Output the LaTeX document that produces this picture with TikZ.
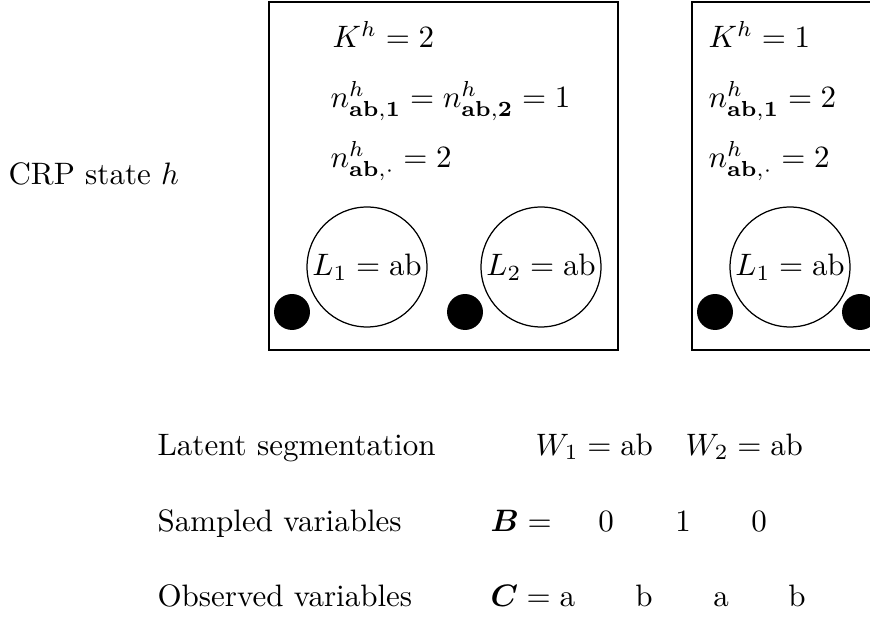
\documentclass[tikz,border=0pt]{standalone}
\usepackage{amsmath}
\begin{document}
\begin{tikzpicture}[x=0.3226pt,y=0.3226pt,
  frame/.style={draw, line width=0.5pt},
  ring/.style={draw, circle, line width=0.4pt, minimum size=38.7pt, inner sep=0pt},
  blob/.style={circle, fill=black, minimum size=11.6pt, inner sep=0pt},
  txt/.style={anchor=base west, inner sep=0pt},
  ctxt/.style={anchor=base, inner sep=0pt}]
\useasboundingbox (0,0) rectangle (870,-619);
\clip (0,0) rectangle (870,-619);
% left label
\node[txt] (crp) at (8,-185) {CRP state $h$};
% box 1
\draw[frame] (269,-2) rectangle (618,-350);
\node[txt] (k1) at (332,-48) {$K^h = 2$};
\node[txt] (n1) at (330,-108) {$n^h_{\mathbf{ab,1}} = n^h_{\mathbf{ab,2}} = 1$};
\node[txt] (m1) at (330,-168) {$n^h_{\mathbf{ab},\cdot} = 2$};
\node[ring] (c11) at (367,-267) {$L_1 = \mathrm{ab}$};
\node[ring] (c12) at (541,-267) {$L_2 = \mathrm{ab}$};
\node[blob] (d11) at (292,-312) {};
\node[blob] (d12) at (465,-312) {};
% box 2
\draw[frame] (692,-2) rectangle (920,-350);
\node[txt] (k2) at (708,-48) {$K^h = 1$};
\node[txt] (n2) at (708,-108) {$n^h_{\mathbf{ab,1}} = 2$};
\node[txt] (m2) at (708,-168) {$n^h_{\mathbf{ab},\cdot} = 2$};
\node[ring] (c21) at (790,-267) {$L_1 = \mathrm{ab}$};
\node[blob] (d21) at (715,-312) {};
\node[blob] (d22) at (860,-312) {};
% bottom rows
\node[txt] (lat) at (157,-455) {Latent segmentation};
\node[txt] (w1) at (535,-455) {$W_1 = \mathrm{ab}$};
\node[txt] (w2) at (685,-455) {$W_2 = \mathrm{ab}$};
\node[txt] (smp) at (157,-531) {Sampled variables};
\node[txt] (beq) at (490,-531) {$\boldsymbol{B} =$};
\node[ctxt] (b1) at (606,-531) {$0$};
\node[ctxt] (b2) at (683,-531) {$1$};
\node[ctxt] (b3) at (759,-531) {$0$};
\node[txt] (obs) at (157,-606) {Observed variables};
\node[txt] (ceq) at (490,-606) {$\boldsymbol{C} = \mathrm{a}$};
\node[ctxt] (o2) at (644,-606) {b};
\node[ctxt] (o3) at (721,-606) {a};
\node[ctxt] (o4) at (797,-606) {b};
\end{tikzpicture}
\end{document}
